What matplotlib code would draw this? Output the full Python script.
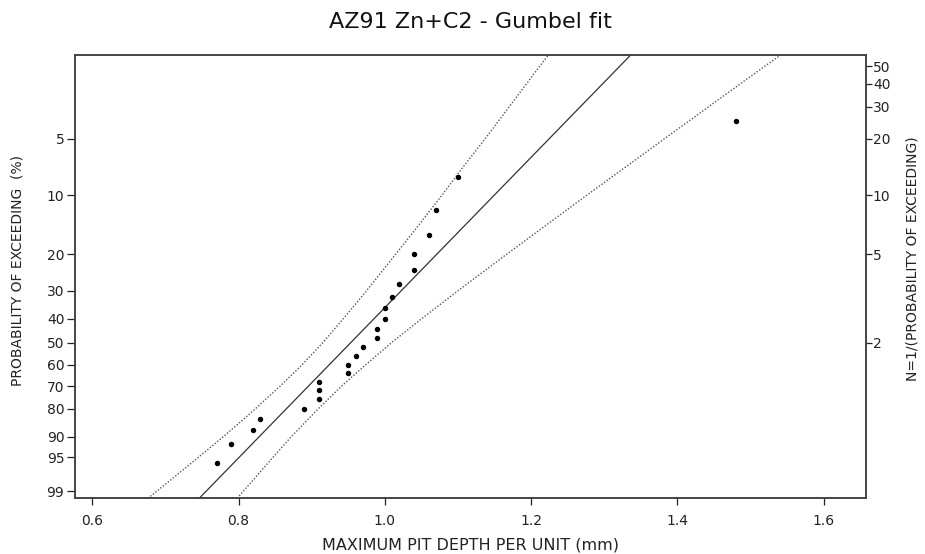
import numpy as np
import matplotlib
matplotlib.use("Agg")
import matplotlib.pyplot as plt

# ---------------- data ----------------
# observed maximum pit depths (mm), ranked largest -> smallest
pit_depth = [1.48, 1.10, 1.07, 1.06, 1.04, 1.04, 1.02, 1.01, 1.00, 1.00, 0.99, 0.99,
             0.97, 0.96, 0.95, 0.95, 0.91, 0.91, 0.91, 0.89, 0.83, 0.82, 0.79, 0.77]
# probability of exceeding (%) plotted for each point
prob_exceed = [4, 8, 12, 16, 20, 24, 28, 32, 36, 40, 44, 48,
               52, 56, 60, 64, 68, 72, 76, 80, 84, 88, 92, 96]

# Gumbel fit parameters (location, scale) in mm
gumbel_loc = 0.915
gumbel_scale = 0.1042

# confidence bands: probability (%) and depth (mm)
band_prob = [99.36, 98, 95, 90, 85, 80, 70, 60, 50, 40, 30, 20, 15, 10, 7, 5, 3, 2, 1.733]
band_upper = [0.676, 0.710, 0.745, 0.779, 0.803, 0.823, 0.857, 0.887, 0.915, 0.943,
              0.975, 1.015, 1.042, 1.078, 1.108, 1.137, 1.179, 1.212, 1.224]
band_lower = [0.798, 0.822, 0.847, 0.872, 0.892, 0.909, 0.941, 0.974, 1.009, 1.050,
              1.100, 1.167, 1.213, 1.276, 1.331, 1.382, 1.459, 1.520, 1.542]

left_ticks = [5, 10, 20, 30, 40, 50, 60, 70, 80, 90, 95, 99]
right_ticks_N = [2, 5, 10, 20, 30, 40, 50]
x_ticks = [0.6, 0.8, 1.0, 1.2, 1.4, 1.6]

title = "AZ91 Zn+C2 - Gumbel fit"
xlabel = "MAXIMUM PIT DEPTH PER UNIT (mm)"
ylabel_left = "PROBABILITY OF EXCEEDING  (%)"
ylabel_right = "N=1/(PROBABILITY OF EXCEEDING)"

# ---------------- Gumbel probability scale (increasing in p) ----------------
def fwd(p):
    p = np.clip(np.asarray(p, dtype=float), 1e-6, 100 - 1e-6)
    return np.log(-np.log(1.0 - p / 100.0))

def inv(v):
    v = np.asarray(v, dtype=float)
    return 100.0 * (1.0 - np.exp(-np.exp(v)))

plt.rcParams['font.family'] = ['DejaVu Sans']
fig = plt.figure(figsize=(9.25, 5.54), dpi=100)
ax = fig.add_axes([0.0808, 0.1005, 0.9362 - 0.0808, 0.9013 - 0.1005])

ax.set_yscale('function', functions=(fwd, inv))
ylim = (99.36, 1.733)   # bottom, top
ax.set_ylim(*ylim)
ax.set_xlim(0.576, 1.658)

# fit line from the model
fit_p = np.array([99.5, 1.5])
fit_x = gumbel_loc - gumbel_scale * np.log(-np.log(1 - fit_p / 100.0))
ax.plot(fit_x, fit_p, color='#333333', lw=0.9, zorder=3)

# confidence bands
ax.plot(band_upper, band_prob, color='#555555', lw=1.0, ls=(0, (1, 1.3)), zorder=2)
ax.plot(band_lower, band_prob, color='#555555', lw=1.0, ls=(0, (1, 1.3)), zorder=2)

# data
ax.plot(pit_depth, prob_exceed, 'o', color='black', ms=2.9, mec='black', zorder=4)

# ticks
ax.set_yticks(left_ticks)
ax.set_yticklabels([str(t) for t in left_ticks])
ax.yaxis.set_minor_locator(matplotlib.ticker.NullLocator())
ax.set_xticks(x_ticks)
ax.set_xticklabels([f"{t:.1f}" for t in x_ticks])
ax.tick_params(axis='y', direction='out', length=6, width=0.9, labelsize=10, pad=1.5, colors='#222222')
ax.tick_params(axis='x', direction='out', length=5, width=0.9, labelsize=10, pad=6, colors='#222222')

ax2 = ax.twinx()
ax2.set_yscale('function', functions=(fwd, inv))
ax2.set_ylim(*ylim)
ax2.set_yticks([100.0 / n for n in right_ticks_N])
ax2.set_yticklabels([str(n) for n in right_ticks_N])
ax2.yaxis.set_minor_locator(matplotlib.ticker.NullLocator())
ax2.tick_params(axis='y', direction='out', length=4, width=0.9, labelsize=10, pad=1, colors='#222222')

for a in (ax, ax2):
    for s in a.spines.values():
        s.set_color('#444444')
        s.set_linewidth(1.2)

fig.text(470 / 925, 1 - 21.5 / 554, title, ha='center', va='center', fontsize=16, color='#111111')
fig.text(470.6 / 925, 1 - 545 / 554, xlabel, ha='center', va='center', fontsize=11.5, color='#222222')
fig.text(18 / 925, 1 - 270 / 554, ylabel_left, ha='center', va='center', rotation=90,
         fontsize=10, color='#222222')
fig.text(912 / 925, 1 - 259 / 554, ylabel_right, ha='center', va='center', rotation=90,
         fontsize=10, color='#222222')

fig.savefig('out.png', dpi=100, facecolor='white')
